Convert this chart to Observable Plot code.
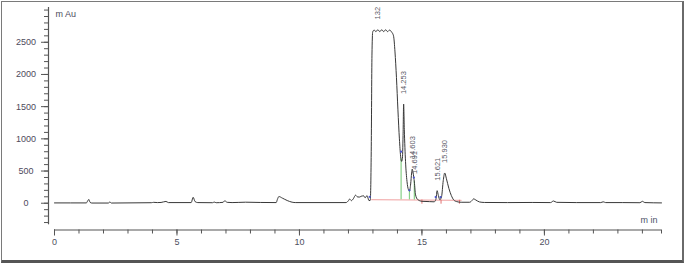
<!DOCTYPE html>
<html>
<head>
<meta charset="utf-8">
<script src="https://cdn.jsdelivr.net/npm/d3@7"></script>
<script src="https://cdn.jsdelivr.net/npm/@observablehq/plot@0.6"></script>
<style>
  html, body { margin: 0; padding: 0; background: #fff; }
  #wrap { position: relative; width: 685px; height: 265px; overflow: hidden; background: #fff; }
  #border { position: absolute; left: 1px; top: 1px; width: 680px; height: 258px;
            border: 1px solid #7a7a7a; border-right: 2px solid #6a6a6a; border-bottom: 3px solid #555; pointer-events: none; }
  svg { font-family: "Liberation Sans", Arial, sans-serif; }
</style>
</head>
<body>
<div id="wrap"><div id="border"></div></div>
<script>
// ---- data ----
const time = [0, 1.30, 1.36, 1.40, 1.45, 1.52, 2.20, 2.26, 2.32, 3.95, 4.05, 4.2, 4.35, 4.55, 4.65, 5.58, 5.66, 5.74, 5.85, 6.45, 6.52, 6.6, 6.88, 6.95, 7.05, 7.25, 7.8, 8.4, 9.05, 9.10, 9.16, 9.3, 9.5, 9.7, 9.85, 11.9, 12.0, 12.05, 12.12, 12.2, 12.29, 12.36, 12.44, 12.52, 12.62, 12.68, 12.76, 12.84, 12.89, 12.93, 12.96, 12.99, 13.05, 13.12, 13.2, 13.28, 13.36, 13.44, 13.52, 13.6, 13.68, 13.76, 13.84, 13.9, 13.96, 14.02, 14.08, 14.13, 14.17, 14.2, 14.23, 14.253, 14.28, 14.33, 14.39, 14.45, 14.49, 14.54, 14.58, 14.603, 14.64, 14.69, 14.74, 14.82, 15.0, 15.3, 15.5, 15.57, 15.621, 15.67, 15.73, 15.8, 15.87, 15.93, 16.0, 16.1, 16.2, 16.3, 16.42, 16.6, 16.95, 17.05, 17.11, 17.2, 17.35, 17.55, 18.5, 19.5, 20.25, 20.37, 20.5, 21.3, 22.3, 22.4, 22.5, 23.2, 23.9, 24.0, 24.1, 24.78];
const signal = [5, 5, 40, 60, 15, 3, 3, 20, 3, 8, 14, 10, 12, 28, 10, 10, 92, 25, 10, 8, 18, 8, 14, 38, 14, 10, 16, 12, 10, 60, 104, 80, 42, 16, 10, 10, 40, 65, 40, 70, 125, 100, 95, 108, 115, 85, 118, 40, 45, 800, 2300, 2660, 2690, 2665, 2695, 2665, 2695, 2665, 2695, 2665, 2690, 2660, 2600, 2350, 1950, 1450, 1000, 730, 650, 680, 1050, 1540, 1150, 650, 340, 210, 190, 300, 470, 530, 470, 330, 130, 60, 30, 25, 22, 60, 195, 120, 55, 100, 350, 470, 380, 230, 120, 50, 25, 15, 15, 45, 68, 50, 20, 12, 10, 12, 10, 35, 14, 10, 10, 22, 10, 10, 8, 30, 10, 5];

const peakTimes  = [13.17, 14.253, 14.603, 14.691, 15.621, 15.930];
const peakLabels = ["132", "14.253", "14.603", "14.691", "15.621", "15.930"];
const peakHeights = [2700, 1540, 530, 300, 195, 470];

const dropTimes = [14.15, 14.49, 14.69];
const dropTops  = [690, 210, 340];
const dropBase  = [53, 52, 51];

const baseTimes = [12.95, 16.6];
const baseValues = [55, 45];

const endTimes = [15.0, 15.78, 16.53];
const endTop = [50, 48, 46];
const endBottom = [-15, -15, -15];

const markTimes  = [12.87, 14.15, 14.49, 14.67, 15.56, 15.76];
const markValues = [100, 800, 200, 400, 95, 95];

const xMajor = [0, 5, 10, 15, 20];
const xMinor = d3.range(0, 25, 1);
const xDomain = [0, 24.78];
const yMajor = [0, 500, 1000, 1500, 2000, 2500];
const yMinor = d3.range(-300, 3001, 100);
const yDomain = [-335, 3040];

const trace = time.map((t, i) => ({t, v: signal[i]}));
const peaks = peakTimes.map((t, i) => ({t, v: peakHeights[i], label: peakLabels[i]}));
const drops = dropTimes.map((t, i) => ({t, v1: dropBase[i], v2: dropTops[i]}));
const base = baseTimes.map((t, i) => ({t, v: baseValues[i]}));
const ends = endTimes.map((t, i) => ({t, v1: endBottom[i], v2: endTop[i]}));
const marks = markTimes.map((t, i) => ({t, v: markValues[i]}));

const axisColor = "#555";
const chart = Plot.plot({
  width: 685,
  height: 265,
  marginLeft: 48,
  marginRight: 24,
  marginTop: 7,
  marginBottom: 35.5,
  style: {fontFamily: "'Liberation Sans', Arial, sans-serif", fontSize: "9px", color: "#4d4a5c", background: "transparent"},
  x: {domain: xDomain, insetLeft: 6, label: null},
  y: {domain: yDomain, insetBottom: 5.2, label: null},
  marks: [
    // axis lines
    Plot.ruleX([0], {y1: yDomain[0], y2: yDomain[1], dx: -6, stroke: axisColor, strokeWidth: 1.2}),
    Plot.ruleY([yDomain[0]], {x1: xDomain[0], x2: xDomain[1], dy: 5.2, stroke: axisColor, strokeWidth: 1.2}),
    // y ticks
    Plot.axisY(yMinor, {tickSize: 4, tickFormat: () => "", stroke: axisColor, label: null}),
    Plot.axisY(yMajor, {tickSize: 7, tickFormat: () => "", stroke: axisColor, label: null}),
    Plot.axisY(yMajor, {tickSize: 0, tickPadding: 22.5, textAnchor: "middle", tickFormat: d3.format("d"), fill: "#4d4a5c", label: null}),
    // x ticks
    Plot.axisX(xMinor.concat([xDomain[1]]), {tickSize: 4, tickFormat: () => "", stroke: axisColor, label: null}),
    Plot.axisX(xMajor, {tickSize: 6, tickPadding: 3, tickFormat: d3.format("d"), stroke: axisColor, fill: "#4d5060", label: null}),
    // integration baseline and marks
    Plot.line(base, {x: "t", y: "v", stroke: "#f3b3b3", strokeWidth: 1.2}),
    Plot.ruleX(ends, {x: "t", y1: "v1", y2: "v2", stroke: "#e07070", strokeWidth: 1}),
    Plot.ruleX(drops, {x: "t", y1: "v1", y2: "v2", stroke: "#86cf86", strokeWidth: 1.2}),
    // trace
    Plot.line(trace, {x: "t", y: "v", stroke: "#383838", strokeWidth: 1, curve: "monotone-x"}),
    Plot.dot(marks, {x: "t", y: "v", r: 1.1, fill: "#4b55d0", stroke: "none"}),
    // peak labels
    Plot.text(peaks, {x: "t", y: "v", text: "label", rotate: -90, textAnchor: "start", dy: -10, fontSize: 7.5, fill: "#5a5a66"}),
    // unit labels
    Plot.text(["m Au"], {frameAnchor: "top-left", dx: 7, dy: 7, textAnchor: "start", lineAnchor: "middle", fill: "#4d4a5c"}),
    Plot.text(["m in"], {frameAnchor: "bottom-right", dx: -4, dy: -10, textAnchor: "end", lineAnchor: "middle", fill: "#4d5068"})
  ]
});
document.getElementById("wrap").prepend(chart);
</script>
</body>
</html>
